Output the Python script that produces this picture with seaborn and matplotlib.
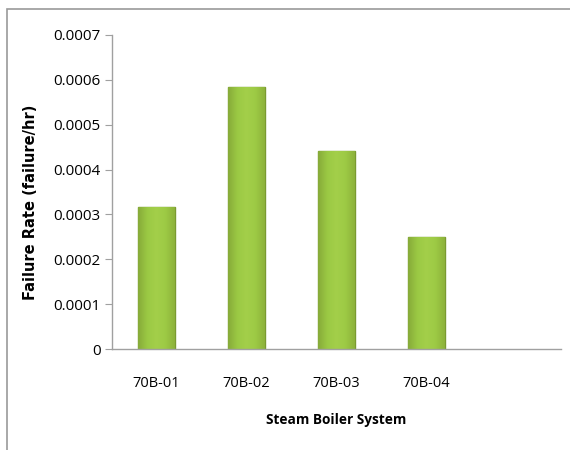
import numpy as np
import pandas as pd
import matplotlib
matplotlib.use("Agg")
import matplotlib.pyplot as plt
import matplotlib.ticker as mticker
from matplotlib.patches import Rectangle
from matplotlib.colors import LinearSegmentedColormap
import seaborn as sns

# values
systems = ["70B-01", "70B-02", "70B-03", "70B-04"]
failure_rate = [0.000316, 0.000584, 0.000441, 0.000250]

df = pd.DataFrame({"System": systems, "Rate": failure_rate})

sns.set_style("white")
plt.rcParams["font.family"] = ["Open Sans", "DejaVu Sans"]
plt.rcParams["text.color"] = "black"

fig = plt.figure(figsize=(5.7, 4.5), dpi=100)
ax = fig.add_axes([0.196, 0.2244, 0.788, 0.698])

sns.barplot(data=df, x="System", y="Rate", ax=ax, color="#9dc943",
            width=0.41, saturation=1, edgecolor="#7a9a30", linewidth=1.0)

# soft shading inside each bar, like the Excel style
shade = LinearSegmentedColormap.from_list(
    "shade", ["#87ab39", "#9bc944", "#a3cf4a", "#9dca45", "#8db23b"])
for bar in list(ax.patches):
    x0, w, h = bar.get_x(), bar.get_width(), bar.get_height()
    im = ax.imshow(np.linspace(0, 1, 64).reshape(1, -1), cmap=shade,
                   extent=[x0, x0 + w, 0, h], aspect="auto",
                   zorder=bar.get_zorder() + 0.1)
    im.set_clip_path(bar)

# fifth slot on the category axis is left empty, as in the original
ax.set_xlim(-0.5, 4.5)
ax.set_ylim(0, 0.0007)
ax.yaxis.set_major_locator(mticker.MultipleLocator(0.0001))
ax.yaxis.set_major_formatter(mticker.FuncFormatter(
    lambda v, p: "0" if abs(v) < 1e-12 else f"{v:.4f}"))

for s in ["top", "right"]:
    ax.spines[s].set_visible(False)
for s in ["left", "bottom"]:
    ax.spines[s].set_color("#a0a0a0")
    ax.spines[s].set_linewidth(1)
    ax.spines[s].set_zorder(5)

ax.tick_params(axis="y", left=True, length=5, color="#a0a0a0", labelsize=11,
               labelcolor="black", pad=3)
ax.tick_params(axis="x", bottom=False, labelsize=10.5, labelcolor="black", pad=16)

ax.set_xlabel("Steam Boiler System", fontsize=9.8, fontweight="bold",
              color="black", labelpad=16)
ax.set_ylabel("Failure Rate (failure/hr)", fontsize=10.5, fontweight="bold",
              family=["DejaVu Sans"], color="black")
ax.yaxis.set_label_coords(-0.165, 0.468)

# outer chart border
fig.patches.append(Rectangle((7 / 570, -0.1), 1.2, (450 - 9) / 450 + 0.1,
                             transform=fig.transFigure, fill=False,
                             edgecolor="#9a9a9a", linewidth=1.2))

fig.savefig("out.png", dpi=100)
